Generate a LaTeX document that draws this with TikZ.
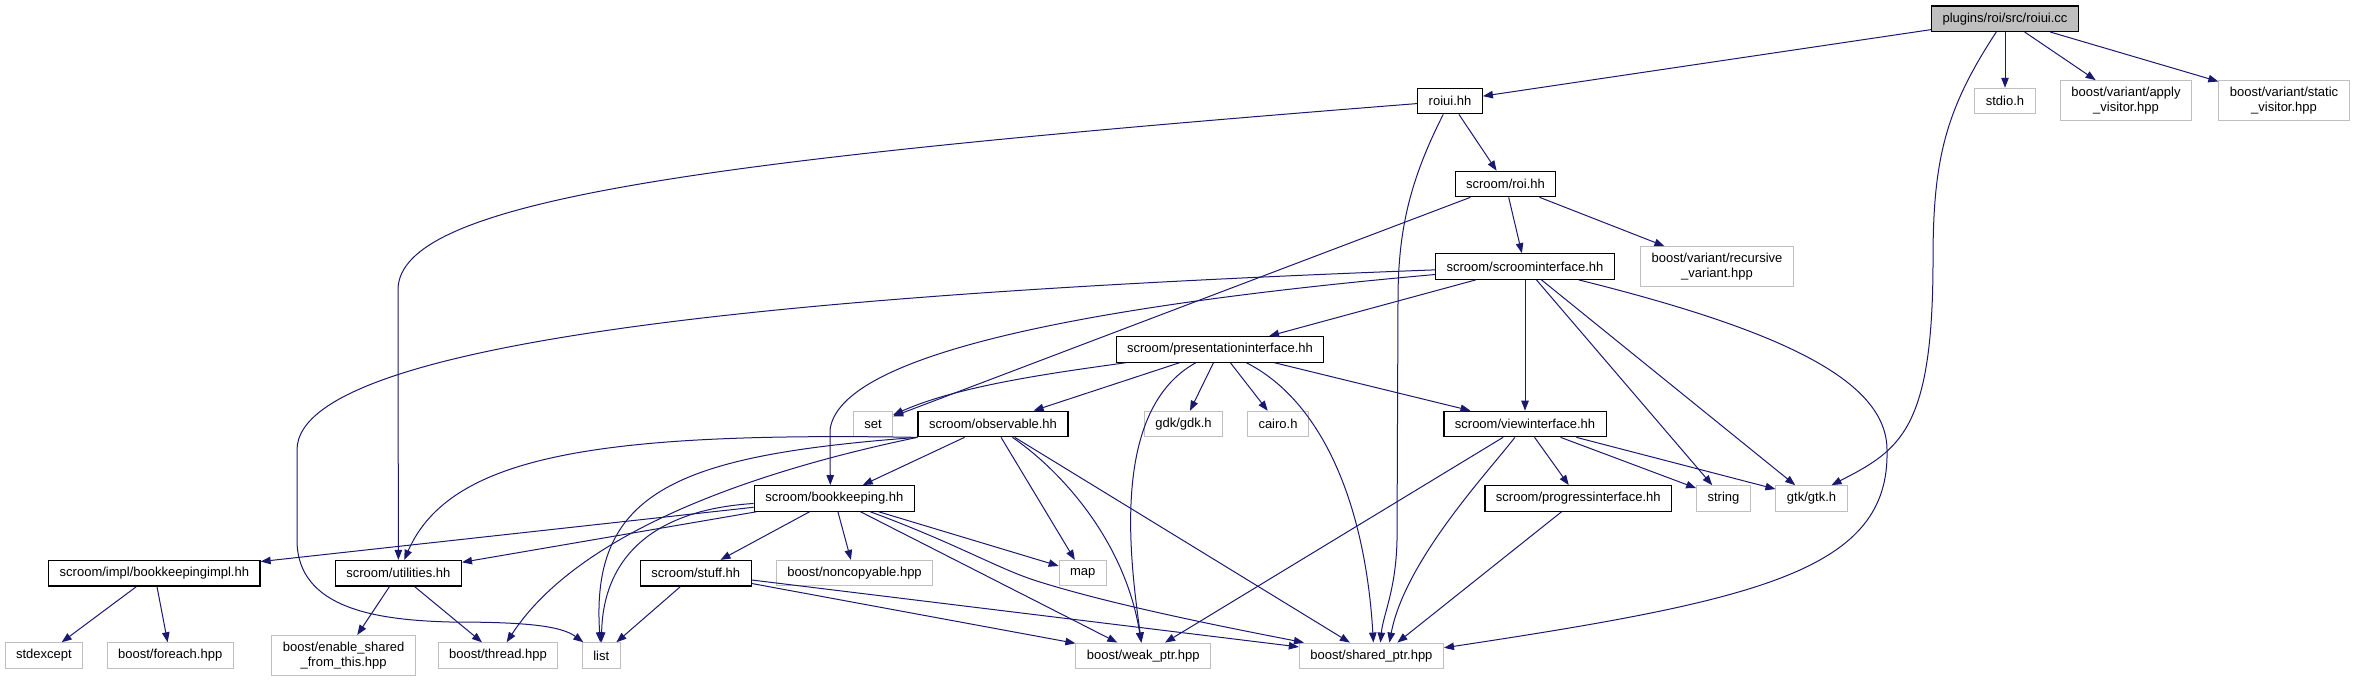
\documentclass[tikz,border=0pt]{standalone}
\usepackage{fontspec}
\setmainfont{Liberation Sans}
\usetikzlibrary{arrows.meta,positioning}
\definecolor{navy}{HTML}{191970}

\begin{document}
\begin{tikzpicture}[x=1pt,y=-1pt,font=\fontsize{13}{15}\selectfont,
  >={Stealth[length=10pt,width=7.5pt,inset=0pt]},
  hd/.style={draw,line width=1.2pt,fill=white,minimum height=25.5pt,inner xsep=11pt,inner ysep=6.5pt,align=center},
  ext/.style={hd,draw=black!25,line width=1pt},
  src/.style={hd,fill=black!25},
  dep/.style={->,navy,line width=1pt}]
\useasboundingbox (0,0) rectangle (2356,683);
\node[src] (root) at (2005,18.7) {plugins/roi/src/roiui.cc};
\node[hd] (roiuihh) at (1450,101) {roiui.hh};
\node[ext] (stdio) at (2005,101) {stdio.h};
\node[ext] (apply) at (2126,100.7) {boost/variant/apply\\\_visitor.hpp};
\node[ext] (static) at (2284,100.7) {boost/variant/static\\\_visitor.hpp};
\node[hd] (roi) at (1505.5,184) {scroom/roi.hh};
\node[hd] (scroomif) at (1525,266.5) {scroom/scroominterface.hh};
\node[ext] (recvar) at (1717,266.7) {boost/variant/recursive\\\_variant.hpp};
\node[hd] (presif) at (1220,349.4) {scroom/presentationinterface.hh};
\node[ext] (set) at (873,424) {set};
\node[hd] (observ) at (993,424) {scroom/observable.hh};
\node[ext] (gdk) at (1183.5,424) {gdk/gdk.h};
\node[ext] (cairo) at (1278,424) {cairo.h};
\node[hd] (viewif) at (1525,424) {scroom/viewinterface.hh};
\node[hd] (bookkeeping) at (834.3,498.4) {scroom/bookkeeping.hh};
\node[hd] (progress) at (1578.3,498.4) {scroom/progressinterface.hh};
\node[ext] (string) at (1723.5,498.4) {string};
\node[ext] (gtk) at (1811.5,498.4) {gtk/gtk.h};
\node[hd] (bkimpl) at (154.4,573.2) {scroom/impl/bookkeepingimpl.hh};
\node[hd] (util) at (398.4,573.2) {scroom/utilities.hh};
\node[hd] (stuff) at (695.8,573.2) {scroom/stuff.hh};
\node[ext] (noncopy) at (854.5,573.2) {boost/noncopyable.hpp};
\node[ext] (map) at (1082.8,573.2) {map};
\node[ext] (stdexcept) at (43.9,655.5) {stdexcept};
\node[ext] (foreach) at (170.2,655.5) {boost/foreach.hpp};
\node[ext] (enable) at (343.6,655.5) {boost/enable\_shared\\\_from\_this.hpp};
\node[ext] (thread) at (498,655.5) {boost/thread.hpp};
\node[ext] (list) at (601.2,655.5) {list};
\node[ext] (weak) at (1143.3,655.8) {boost/weak\_ptr.hpp};
\node[ext] (shared) at (1371.4,655.8) {boost/shared\_ptr.hpp};
\draw[dep] (root) -- (roiuihh);
\draw[dep] (root) .. controls (1945,110) and (1933,160) .. (1933,260) .. controls (1933,430) and (1900,450) .. ([xshift=20pt]gtk.north);
\draw[dep] (root) -- (stdio);
\draw[dep] (root) -- (apply);
\draw[dep] (root) -- (static);
\draw[dep] (roiuihh) -- (roi);
\draw[dep] (roiuihh) .. controls (1410,180) and (1398,230) .. (1398,300) -- (1397,540) .. controls (1396,590) and (1383,615) .. ([xshift=9pt]shared.north);
\draw[dep] (roiuihh) .. controls (700,160) and (398,200) .. (398,290) -- (util);
\draw[dep] (roi) -- (scroomif);
\draw[dep] (roi) -- (recvar);
\draw[dep] (roi) -- (set);
\draw[dep] (scroomif) -- (presif);
\draw[dep] (scroomif) -- (viewif);
\draw[dep] (scroomif) -- (string);
\draw[dep] (scroomif) -- (gtk);
\draw[dep] (scroomif) .. controls (1780,330) and (1887,380) .. (1887,450) .. controls (1890,570) and (1760,600) .. ([yshift=8pt]shared.east);
\draw[dep] (scroomif) .. controls (900,290) and (297,330) .. (297,450) -- (297,540) .. controls (297,610) and (380,620) .. (450,622) .. controls (520,622) and (560,625) .. (list);
\draw[dep] (scroomif) .. controls (1150,300) and (840,345) .. (830,430) -- ([xshift=-4pt]bookkeeping.north);
\draw[dep] (presif) .. controls (1060,372) and (960,385) .. (set);
\draw[dep] (presif) -- (observ);
\draw[dep] (presif) -- (gdk);
\draw[dep] (presif) -- (cairo);
\draw[dep] (presif) -- (viewif);
\draw[dep] (presif) .. controls (1110,410) and (1130,560) .. (weak);
\draw[dep] (presif) .. controls (1320,400) and (1365,500) .. ([xshift=2pt]shared.north);
\draw[dep] (observ) -- (bookkeeping);
\draw[dep] (observ) -- (map);
\draw[dep] (observ) .. controls (1060,470) and (1125,540) .. (weak);
\draw[dep] (observ) -- (shared);
\draw[dep] (observ.south west) .. controls (600,432) and (450,455) .. (util);
\draw[dep] (observ.south west) .. controls (760,470) and (580,530) .. (thread);
\draw[dep] (observ.south west) .. controls (680,455) and (590,490) .. (list);
\draw[dep] (bookkeeping) -- (bkimpl);
\draw[dep] (bookkeeping) -- (util);
\draw[dep] (bookkeeping) .. controls (650,510) and (603,560) .. (list);
\draw[dep] (bookkeeping) -- (stuff);
\draw[dep] (bookkeeping) -- (noncopy);
\draw[dep] (bookkeeping) -- (map);
\draw[dep] (bookkeeping) -- (weak);
\draw[dep] (bookkeeping) .. controls (960,545) and (1000,570) .. (1040,582) .. controls (1120,607) and (1240,630) .. (shared);
\draw[dep] (viewif) -- (progress);
\draw[dep] (viewif) -- (string);
\draw[dep] (viewif) -- (gtk);
\draw[dep] (viewif) -- (weak);
\draw[dep] (viewif) .. controls (1490,470) and (1405,560) .. ([xshift=18pt]shared.north);
\draw[dep] (progress) -- ([xshift=26pt]shared.north);
\draw[dep] (stuff) -- (list);
\draw[dep] (stuff) -- (weak);
\draw[dep] (stuff) -- (shared);
\draw[dep] (util) -- (enable);
\draw[dep] (util) -- (thread);
\draw[dep] (bkimpl) -- (stdexcept);
\draw[dep] (bkimpl) -- (foreach);
\end{tikzpicture}
\end{document}
